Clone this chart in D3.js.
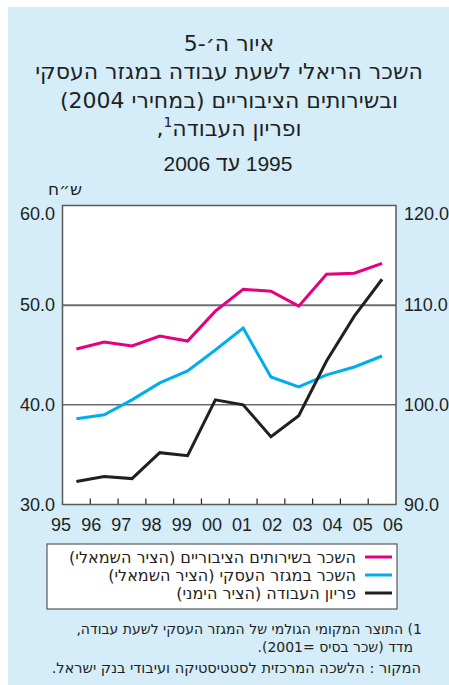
<!DOCTYPE html>
<html>
<head>
<meta charset="utf-8">
<script src="https://cdn.jsdelivr.net/npm/d3@7"></script>
<style>
  body { margin: 0; background: #fff; }
  text { font-family: "Liberation Sans", Arial, sans-serif; fill: #231f20; }
  text.he { font-family: "DejaVu Sans", sans-serif; }
</style>
</head>
<body>
<svg id="chart" width="449" height="685"></svg>
<script>
// data
const years = ["1995","1996","1997","1998","1999","2000","2001","2002","2003","2004","2005","2006"];
const xLabels = ["95","96","97","98","99","00","01","02","03","04","05","06"];
const publicWage =   [45.6, 46.3, 45.9, 46.9, 46.4, 49.4, 51.6, 51.4, 49.9, 53.1, 53.2, 54.2];
const businessWage = [38.6, 39.0, 40.5, 42.2, 43.4, 45.5, 47.7, 42.8, 41.8, 43.0, 43.8, 44.9];
const productivity = [92.3, 92.8, 92.6, 95.2, 94.9, 100.5, 100.0, 96.8, 98.9, 104.4, 108.9, 112.6];
const leftTicks = [30, 40, 50, 60];
const rightTicks = [90, 100, 110, 120];
const titleLines = ["איור ה׳-5", "השכר הריאלי לשעת עבודה במגזר העסקי", "ובשירותים הציבוריים (במחירי 2004)"];
const legendLabels = ["השכר בשירותים הציבוריים (הציר השמאלי)", "השכר במגזר העסקי (הציר השמאלי)", "פריון העבודה (הציר הימני)"];
const colors = ["#e5007d", "#00aeef", "#231f20"];

const svg = d3.select("#chart");

// panel background
svg.append("rect").attr("x", 8).attr("y", 7).attr("width", 441).attr("height", 678)
   .attr("fill", "#d4edf9");

// title
const title = svg.append("g").attr("text-anchor", "middle").attr("font-size", 22);
titleLines.forEach(function(t, i) {
    title.append("text").attr("class", "he").attr("x", 229).attr("y", 51 + i * 28.3)
         .attr("direction", "rtl").text(t);
});
const t4 = title.append("text").attr("class", "he").attr("x", 229).attr("y", 136).attr("direction", "rtl");
t4.append("tspan").text("ופריון העבודה");
t4.append("tspan").attr("font-size", 14).attr("dy", -9).text("1");
t4.append("tspan").attr("dy", 9).text(",");
title.append("text").attr("x", 228).attr("y", 171).attr("font-size", 21)
     .attr("direction", "rtl").text("1995 עד 2006");

svg.append("text").attr("class", "he").attr("x", 48).attr("y", 195).attr("text-anchor", "end")
   .attr("font-size", 17).attr("direction", "rtl").text("ש״ח");

// plot
const pLeft = 62.5, pRight = 396, pTop = 205.5, pBottom = 504.5;
const x = d3.scaleBand().domain(years).range([pLeft, pRight]);
const xl = d3.scalePoint().domain(xLabels).range([61, 393]);
const yL = d3.scaleLinear().domain([30, 60]).range([pBottom, pTop]);
const yR = d3.scaleLinear().domain([90, 120]).range([pBottom, pTop]);

svg.append("rect").attr("x", pLeft).attr("y", pTop)
   .attr("width", pRight - pLeft).attr("height", pBottom - pTop)
   .attr("fill", "#fff");

// grid lines
svg.append("line").attr("x1", pLeft).attr("x2", pRight)
   .attr("y1", yL(50)).attr("y2", yL(50)).attr("stroke", "#6d6e70").attr("stroke-width", 2);
svg.append("line").attr("x1", pLeft).attr("x2", pRight)
   .attr("y1", yL(40)).attr("y2", yL(40)).attr("stroke", "#231f20").attr("stroke-width", 1);

// x tick marks between years
svg.append("g").selectAll("line").data(years.slice(1)).join("line")
   .attr("x1", d => x(d)).attr("x2", d => x(d))
   .attr("y1", pBottom).attr("y2", pBottom - 6)
   .attr("stroke", "#231f20").attr("stroke-width", 1.2);

// frame
svg.append("rect").attr("x", pLeft).attr("y", pTop)
   .attr("width", pRight - pLeft).attr("height", pBottom - pTop)
   .attr("fill", "none").attr("stroke", "#58595b").attr("stroke-width", 1.5);

// lines
const series = [
    { vals: publicWage, y: yL, c: colors[0] },
    { vals: businessWage, y: yL, c: colors[1] },
    { vals: productivity, y: yR, c: colors[2] }
];
series.forEach(function(s) {
    const line = d3.line()
        .x((d, i) => x(years[i]) + x.bandwidth() / 2)
        .y(d => s.y(d));
    svg.append("path").datum(s.vals).attr("d", line)
       .attr("fill", "none").attr("stroke", s.c).attr("stroke-width", 3)
       .attr("stroke-linejoin", "miter");
});

// axis labels
svg.append("g").selectAll("text").data(leftTicks).join("text")
   .attr("x", 55).attr("y", d => Math.max(yL(d), 214)).attr("dy", "0.35em")
   .attr("text-anchor", "end").attr("font-size", 18).text(d => d.toFixed(1));
svg.append("g").selectAll("text").data(rightTicks).join("text")
   .attr("x", 404).attr("y", d => Math.max(yR(d), 214)).attr("dy", "0.35em")
   .attr("font-size", 18).text(d => d.toFixed(1));
svg.append("g").selectAll("text").data(xLabels).join("text")
   .attr("x", d => xl(d)).attr("y", 531).attr("text-anchor", "middle")
   .attr("font-size", 18).text(d => d);

// legend
svg.append("rect").attr("x", 47).attr("y", 544).attr("width", 350).attr("height", 65)
   .attr("fill", "#fff").attr("stroke", "#58595b").attr("stroke-width", 1.2);
legendLabels.forEach(function(t, i) {
    const ly = 557 + i * 18;
    svg.append("line").attr("x1", 365).attr("x2", 392).attr("y1", ly).attr("y2", ly)
       .attr("stroke", colors[i]).attr("stroke-width", 3);
    svg.append("text").attr("class", "he").attr("x", 356).attr("y", ly + 5.5).attr("text-anchor", "start")
       .attr("direction", "rtl").attr("font-size", 16).attr("textLength", null).text(t);
});

// notes
const notes = [
    { t: "1) התוצר המקומי הגולמי של המגזר העסקי לשעת עבודה,", x: 422, y: 634, s: 14 },
    { t: "מדד (שכר בסיס =2001).", x: 413, y: 652, s: 14 },
    { t: "המקור : הלשכה המרכזית לסטטיסטיקה ועיבודי בנק ישראל.", x: 421, y: 673, s: 14.6 }
];
notes.forEach(function(n) {
    svg.append("text").attr("class", "he").attr("x", n.x).attr("y", n.y).attr("direction", "rtl")
       .attr("text-anchor", "start").attr("font-size", n.s).text(n.t);
});
</script>
</body>
</html>
